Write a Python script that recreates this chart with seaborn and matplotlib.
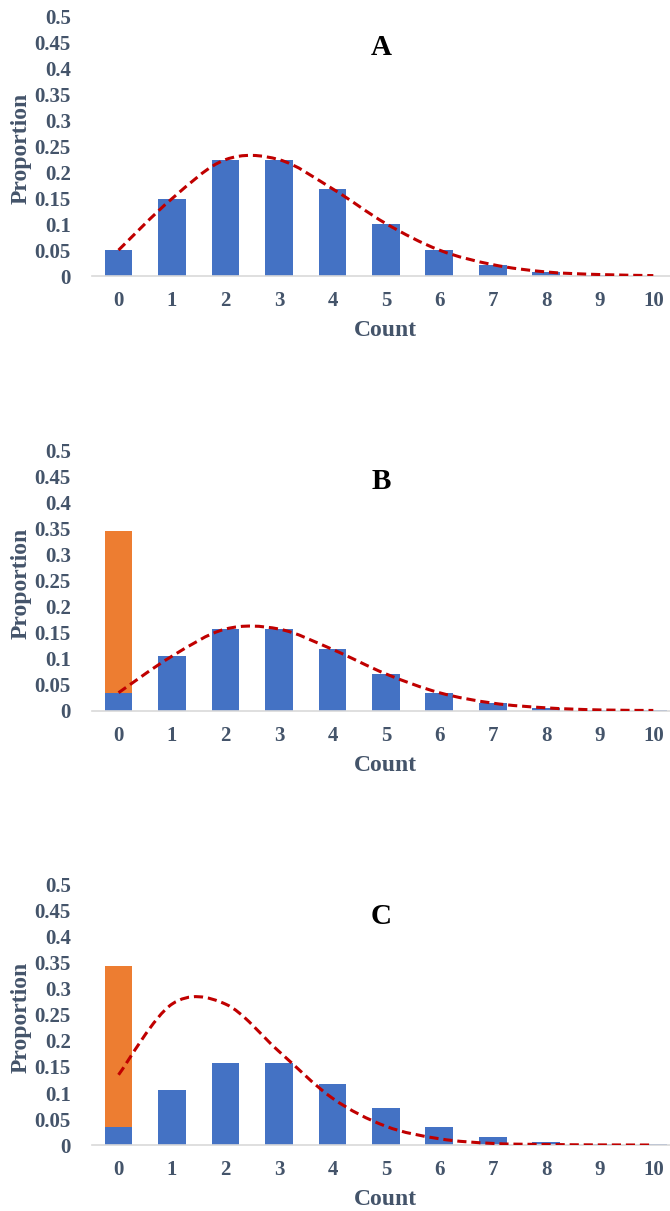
import numpy as np
import pandas as pd
import matplotlib
matplotlib.use("Agg")
import matplotlib.pyplot as plt
from matplotlib.path import Path
from matplotlib.patches import PathPatch
import seaborn as sns

# ---------------- data ----------------
counts = ["0", "1", "2", "3", "4", "5", "6", "7", "8", "9", "10"]

a_bars = [0.050, 0.149, 0.224, 0.224, 0.168, 0.101, 0.050, 0.022, 0.008, 0.003, 0.001]
a_curve = [0.050, 0.149, 0.224, 0.224, 0.168, 0.101, 0.050, 0.022, 0.008, 0.003, 0.001]

b_bars = [0.035, 0.105, 0.157, 0.157, 0.118, 0.071, 0.035, 0.015, 0.006, 0.002, 0.001]
b_excess = [0.310, 0, 0, 0, 0, 0, 0, 0, 0, 0, 0]
b_curve = [0.035, 0.105, 0.157, 0.157, 0.118, 0.071, 0.035, 0.015, 0.006, 0.002, 0.001]

c_bars = [0.035, 0.105, 0.157, 0.157, 0.118, 0.071, 0.035, 0.015, 0.006, 0.002, 0.001]
c_excess = [0.310, 0, 0, 0, 0, 0, 0, 0, 0, 0, 0]
c_curve = [0.135, 0.271, 0.271, 0.180, 0.090, 0.036, 0.012, 0.003, 0.001, 0.0002, 0.0]

yticks = [0, 0.05, 0.1, 0.15, 0.2, 0.25, 0.3, 0.35, 0.4, 0.45, 0.5]
ytick_labels = ["0", "0.05", "0.1", "0.15", "0.2", "0.25", "0.3", "0.35", "0.4", "0.45", "0.5"]

panels = [
    ("A", a_bars, None, a_curve),
    ("B", b_bars, b_excess, b_curve),
    ("C", c_bars, c_excess, c_curve),
]

# ---------------- style ----------------
sns.set_theme(style="white")
plt.rcParams["font.family"] = ["Liberation Serif", "DejaVu Serif"]
plt.rcParams["font.weight"] = "bold"

BLUE = "#4472C4"
ORANGE = "#ED7D31"
RED = "#C00000"
TXT = "#44546A"

fig = plt.figure(figsize=(6.7, 12.11), dpi=100)

# axes positions (figure fraction): left, bottom, width, height
positions = [
    (0.137, 0.772, 0.878, 0.2147),
    (0.137, 0.4129, 0.878, 0.2155),
    (0.137, 0.0545, 0.878, 0.2147),
]


def smooth_path(xs, ys):
    """Excel-style smoothed line through the points as cubic Bezier segments."""
    pts = np.column_stack([xs, ys]).astype(float)
    n = len(pts)
    verts = [pts[0]]
    codes = [Path.MOVETO]
    for i in range(n - 1):
        p0 = pts[i - 1] if i > 0 else pts[i]
        p1 = pts[i]
        p2 = pts[i + 1]
        p3 = pts[i + 2] if i + 2 < n else pts[i + 1]
        c1 = p1 + (p2 - p0) / 6.0
        c2 = p2 - (p3 - p1) / 6.0
        verts += [c1, c2, p2]
        codes += [Path.CURVE4] * 3
    return Path(verts, codes)


for (label, bars, excess, curve), pos in zip(panels, positions):
    ax = fig.add_axes(pos)
    if excess is not None:
        total = [b + e for b, e in zip(bars, excess)]
        df_tot = pd.DataFrame({"count": counts, "value": total})
        sns.barplot(data=df_tot, x="count", y="value", order=counts, color=ORANGE,
                    saturation=1, width=0.52, ax=ax, errorbar=None, linewidth=0)
    df = pd.DataFrame({"count": counts, "value": bars})
    sns.barplot(data=df, x="count", y="value", order=counts, color=BLUE,
                saturation=1, width=0.52, ax=ax, errorbar=None, linewidth=0)

    path = smooth_path(np.arange(len(counts)), curve)
    patch = PathPatch(path, facecolor="none", edgecolor=RED, lw=2.2,
                      linestyle=(0, (3.0, 1.6)), zorder=5, capstyle="butt")
    ax.add_patch(patch)

    ax.set_xlim(-0.5, 10.5)
    ax.set_ylim(0, 0.5)
    ax.set_yticks(yticks)
    ax.set_yticklabels(ytick_labels)
    ax.tick_params(axis="both", length=0, labelsize=15, colors=TXT)
    ax.tick_params(axis="x", pad=11)
    ax.tick_params(axis="y", pad=15)
    for t in ax.get_xticklabels() + ax.get_yticklabels():
        t.set_fontweight("bold")
    for s in ["top", "right", "left"]:
        ax.spines[s].set_visible(False)
    ax.spines["bottom"].set_color("#D9D9D9")
    ax.spines["bottom"].set_linewidth(1.2)
    ax.set_xlabel("Count", fontsize=17, fontweight="bold", color=TXT, labelpad=6)
    ax.set_ylabel("Proportion", fontsize=17, fontweight="bold", color=TXT)
    ax.yaxis.set_label_coords(-0.103, 0.49)
    ax.text(0.492, 0.88, label, transform=ax.transAxes, ha="center", va="center",
            fontsize=21, fontweight="bold", color="black")
    ax.set_facecolor("none")
    ax.grid(False)

fig.savefig("out.png", dpi=100)
